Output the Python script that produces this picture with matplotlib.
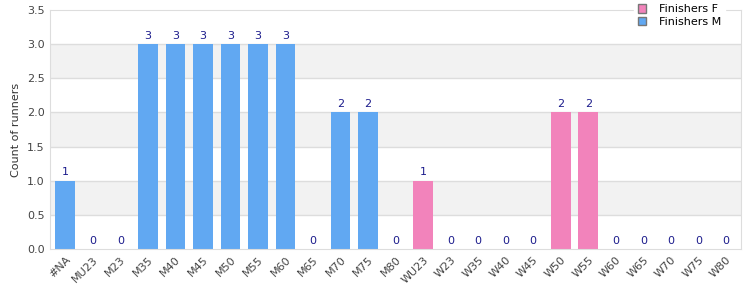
import matplotlib.pyplot as plt
from matplotlib.patches import Patch

categories = ["#NA", "MU23", "M23", "M35", "M40", "M45", "M50", "M55", "M60", "M65",
              "M70", "M75", "M80", "WU23", "W23", "W35", "W40", "W45", "W50", "W55",
              "W60", "W65", "W70", "W75", "W80"]
counts = [1, 0, 0, 3, 3, 3, 3, 3, 3, 0, 2, 2, 0, 1, 0, 0, 0, 0, 2, 2, 0, 0, 0, 0, 0]
sex = ["M"] * 13 + ["F"] * 12

col_m = "#61a8f2"
col_f = "#f283bb"
grid_col = "#dddddd"

plt.rcParams["font.family"] = "DejaVu Sans"

fig = plt.figure(figsize=(7.5, 3), dpi=100)
ax = fig.add_axes([0.067, 0.17, 0.921, 0.797])

# alternating bands
for lo in [0.5, 1.5, 2.5]:
    ax.axhspan(lo, lo + 0.5, color="#f2f2f2", zorder=0, lw=0)
for y in [0.5, 1.0, 1.5, 2.0, 2.5, 3.0]:
    ax.axhline(y, color=grid_col, lw=1, zorder=0.5)

x = list(range(len(categories)))
colors = [col_m if s == "M" else col_f for s in sex]
ax.bar(x, counts, width=0.72, color=colors, zorder=2)

for xi, c in zip(x, counts):
    ax.text(xi, c + 0.05, str(c), ha="center", va="bottom", fontsize=8,
            color="#1c1c8c", zorder=3)

ax.set_xlim(-0.55, len(categories) - 0.45)
ax.set_ylim(0, 3.5)
ax.set_yticks([0, 0.5, 1.0, 1.5, 2.0, 2.5, 3.0, 3.5])
ax.set_yticklabels([f"{v:.1f}" for v in ax.get_yticks()])
ax.set_xticks(x)
ax.set_xticklabels(categories, rotation=45, ha="right", rotation_mode="anchor")
ax.tick_params(axis="both", length=0, labelsize=8, colors="#444444", pad=4)
ax.set_ylabel("Count of runners", fontsize=8, color="#333333")

for s in ax.spines.values():
    s.set_color(grid_col)

handles = [Patch(facecolor=col_f, edgecolor="#777777", label="Finishers F"),
           Patch(facecolor=col_m, edgecolor="#777777", label="Finishers M")]
leg = ax.legend(handles=handles, loc="upper right", bbox_to_anchor=(0.985, 1.06),
                fontsize=8, frameon=True, framealpha=1, edgecolor="white",
                handlelength=0.75, handleheight=0.75, borderpad=0.3,
                labelspacing=0.2, handletextpad=1.2, fancybox=False)
leg.set_zorder(5)

fig.savefig("out.png")
